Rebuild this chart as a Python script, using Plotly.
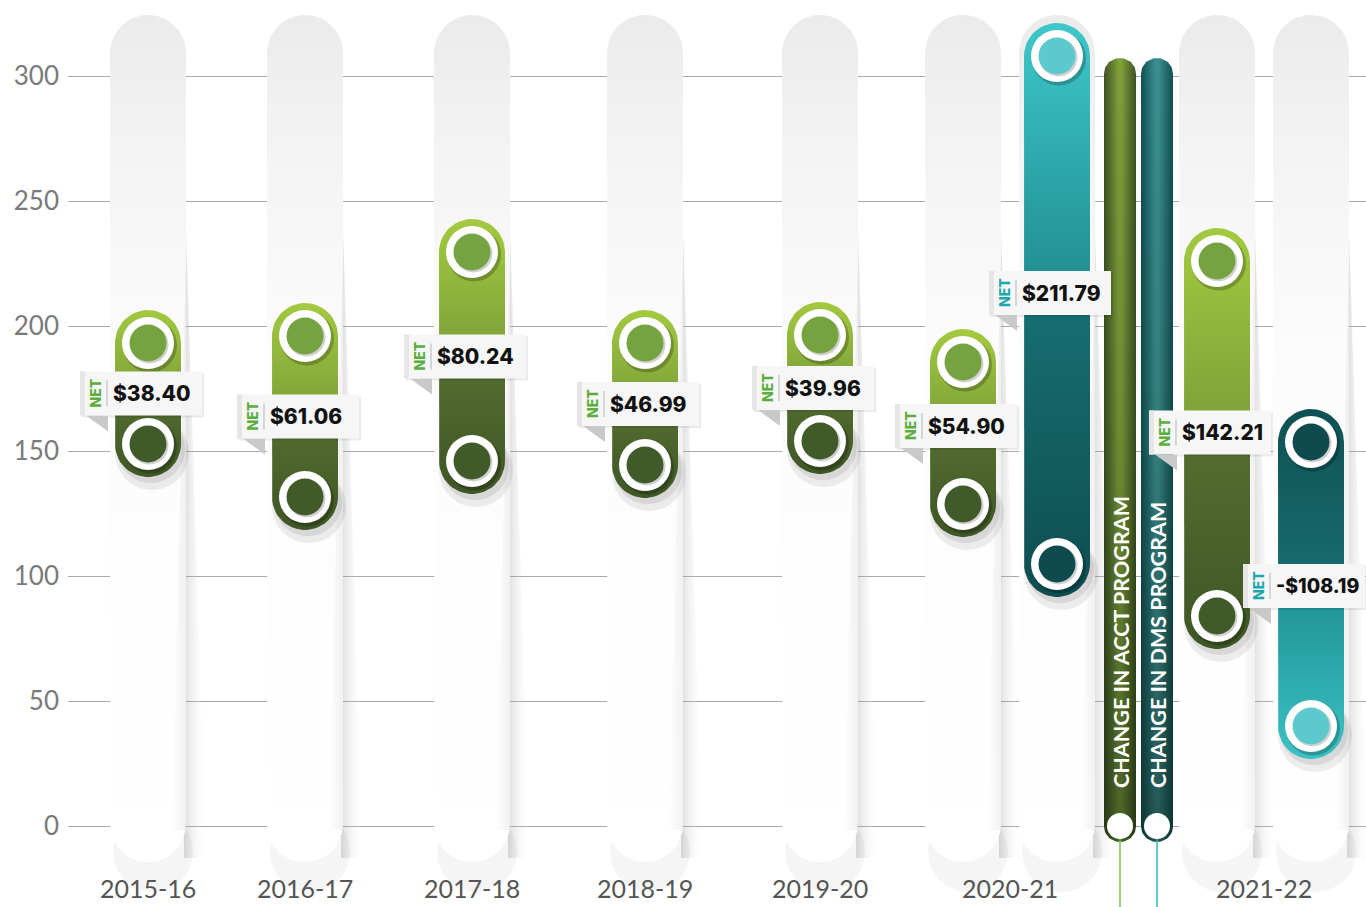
import plotly.graph_objects as go
import numpy as np

# ---------------- data ----------------
categories = ["2015-16", "2016-17", "2017-18", "2018-19", "2019-20", "2020-21", "2021-22"]
acct_start = [152.8, 131.6, 146.0, 144.4, 154.0, 128.8, 84.0]   # dark circle
acct_end = [193.2, 196.0, 229.6, 193.2, 196.4, 185.6, 226.0]     # light circle
acct_net = [38.40, 61.06, 80.24, 46.99, 39.96, 54.90, 142.21]
dms_categories = ["2020-21", "2021-22"]
dms_start = [104.8, 153.6]
dms_end = [308.0, 40.0]
dms_net = [211.79, -108.19]
y_ticks = [0, 50, 100, 150, 200, 250, 300]
legend_labels = ["CHANGE IN ACCT PROGRAM", "CHANGE IN DMS PROGRAM"]

# ---------------- layout / style ----------------
W, H = 1366, 907
ML = 68
PXU = 2.5                      # pixels per y unit
YMAX = 330.4
YMIN = YMAX - H / PXU

acct_x = [148, 305, 472, 645, 820, 963, 1217]
dms_x = [1057, 1311]
acct_label_dy = [0, 0, 0, 0, 0, -7, -6]      # pixel nudge of net labels
dms_label_dy = [-17, 2]
legend_x = [1120, 1157]
legend_cols = [("#3b5222", "#7e9f3a"), ("#0f4f52", "#3a8e8f")]
legend_line_cols = ["#7cc242", "#2fb8b8"]

FONT = "Lato"
HEAVY = "Inter, Lato"


def pv(px):            # page pixel -> y value
    return YMAX - px / PXU


def capsule(xc, y_top, y_bot, r, n=28):
    ry = r / PXU
    t1 = np.linspace(0, np.pi, n)
    t2 = np.linspace(np.pi, 2 * np.pi, n)
    xs = np.concatenate([xc + r * np.cos(t1), xc + r * np.cos(t2)])
    ys = np.concatenate([y_top + ry * np.sin(t1), y_bot + ry * np.sin(t2)])
    xs = np.append(xs, xs[0])
    ys = np.append(ys, ys[0])
    return xs, ys


fig = go.Figure()


def add_poly(xs, ys, grad=None, color=None):
    kw = dict(x=xs, y=ys, mode="lines", fill="toself", line=dict(width=0),
              hoverinfo="skip", showlegend=False)
    if grad is not None:
        kw["fillgradient"] = grad
        kw["fillcolor"] = "rgba(0,0,0,0)"
    else:
        kw["fillcolor"] = color
    fig.add_trace(go.Scatter(**kw))


def add_marker(x, y, size, color, line=None):
    fig.add_trace(go.Scatter(x=[x], y=[y], mode="markers",
                             marker=dict(size=size, color=color,
                                         line=line or dict(width=0)),
                             hoverinfo="skip", showlegend=False, cliponaxis=False))


# ---------------- background pills ----------------
all_cols = acct_x + dms_x
pill_top_c = pv(15 + 38)
pill_bot_c = pv(862 - 38)
for xc in all_cols:
    xr = xc + 36
    ys_sh = [pv(200), pv(200), pv(858), pv(858), pv(200)]
    xs_sh = [xr, xr + 1, xr + 22, xr, xr]
    add_poly(xs_sh, ys_sh, grad=dict(type="horizontal", start=xr, stop=xr + 22,
                                     colorscale=[[0, "rgba(150,140,145,0.32)"],
                                                 [1, "rgba(255,255,255,0)"]]))
    add_marker(xc + 5, pv(852), 80, "rgba(120,110,115,0.07)")
    xs, ys = capsule(xc, pill_top_c, pill_bot_c, 38)
    add_poly(xs, ys, grad=dict(type="vertical", start=pv(862), stop=pv(15),
                               colorscale=[[0, "#ffffff"], [0.6, "#fcfcfc"],
                                           [0.85, "#f3f3f3"], [1, "#ebebeb"]]))
    # soft inner shading at right edge (fades in downward)
    add_poly([xc + 38, xc + 38, xc + 24, xc + 38],
             [pv(250), pv(830), pv(830), pv(250)],
             grad=dict(type="horizontal", start=xc + 24, stop=xc + 38,
                       colorscale=[[0, "rgba(200,195,198,0)"], [1, "rgba(200,195,198,0.22)"]]))


# ---------------- value capsules ----------------
def draw_capsule(xc, start, end, label_px, kind):
    top, bot = max(start, end), min(start, end)
    r = 33
    ry = r / PXU
    s0, s1 = bot - ry, top + ry
    f = (pv(label_px) - s0) / (s1 - s0)
    f = min(max(f, 0.05), 0.95)
    if kind == "green":
        cs = [[0, "#3d5625"], [f - 0.001, "#566f30"], [f, "#7b9f39"], [1, "#a3ca3f"]]
        light_in, dark_in = "#74a340", "#415a29"
    elif kind == "teal_up":
        cs = [[0, "#0e4d50"], [f - 0.001, "#177073"], [f, "#1f8c8f"], [1, "#3fc7c9"]]
        light_in, dark_in = "#5ccacc", "#0f4b4e"
    else:  # teal_down
        cs = [[0, "#3bc2c4"], [f - 0.001, "#1f9092"], [f, "#176d70"], [1, "#0f5154"]]
        light_in, dark_in = "#5ccacc", "#0f4b4e"
    add_marker(xc + 4, bot - 9 / PXU, 74, "rgba(60,50,55,0.09)")
    add_marker(xc + 3, bot - 5 / PXU, 68, "rgba(60,50,55,0.11)")
    xs, ys = capsule(xc, top, bot, r)
    add_poly(xs, ys, grad=dict(type="vertical", start=s0, stop=s1, colorscale=cs))
    for val, inner in ((start, dark_in), (end, light_in)):
        add_marker(xc + 2, val - 2.5 / PXU, 54, "rgba(0,0,0,0.22)")
        add_marker(xc, val, 52, "#ffffff")
        add_marker(xc + 1.5, val - 1.5 / PXU, 38, "rgba(0,0,0,0.18)")
        add_marker(xc, val, 37, inner)


label_specs = []
for i, c in enumerate(categories):
    mid = (acct_start[i] + acct_end[i]) / 2
    lp = (YMAX - mid) * PXU + acct_label_dy[i]
    draw_capsule(acct_x[i], acct_start[i], acct_end[i], lp, "green")
    label_specs.append((acct_x[i], lp, acct_net[i], "#5aae3c"))
for j, c in enumerate(dms_categories):
    mid = (dms_start[j] + dms_end[j]) / 2
    lp = (YMAX - mid) * PXU + dms_label_dy[j]
    kind = "teal_up" if dms_end[j] > dms_start[j] else "teal_down"
    draw_capsule(dms_x[j], dms_start[j], dms_end[j], lp, kind)
    label_specs.append((dms_x[j], lp, dms_net[j], "#1ba7ac"))

# ---------------- legend pills ----------------
leg_top_c = pv(58 + 16)
for k, lx in enumerate(legend_x):
    dark, light = legend_cols[k]
    xs, ys = capsule(lx, leg_top_c, 0, 16)
    add_poly(xs, ys, grad=dict(type="horizontal", start=lx - 16, stop=lx + 16,
                               colorscale=[[0, dark], [0.45, light], [0.55, light], [1, dark]]))
    add_poly(xs, ys, grad=dict(type="vertical", start=-16 / PXU, stop=leg_top_c + 16 / PXU,
                               colorscale=[[0, "rgba(10,20,10,0.45)"], [0.5, "rgba(10,20,10,0.15)"],
                                           [1, "rgba(0,0,0,0)"]]))
    fig.add_trace(go.Scatter(x=[lx, lx], y=[-13 / PXU, YMIN], mode="lines",
                             line=dict(color=legend_line_cols[k], width=1.5),
                             hoverinfo="skip", showlegend=False))
    add_marker(lx, 0, 26, "#ffffff")

# ---------------- net labels ----------------
shapes = []
annotations = []
for (xc, lp, net, ncol) in label_specs:
    x0, x1 = xc - 68, min(xc + 54, W)
    y0, y1 = pv(lp + 22), pv(lp - 22)
    shapes.append(dict(type="rect", xref="x", yref="y", x0=x0 + 2, x1=x1 + 2,
                       y0=y0 - 2 / PXU, y1=y1 - 2 / PXU, fillcolor="rgba(0,0,0,0.08)",
                       line=dict(width=0), layer="above"))
    shapes.append(dict(type="path", xref="x", yref="y",
                       path=f"M {x0 + 6},{y0} L {x0 + 28},{y0} L {x0 + 28},{pv(lp + 38)} Z",
                       fillcolor="#c9c9c9", line=dict(width=0), layer="above"))
    shapes.append(dict(type="rect", xref="x", yref="y", x0=x0, x1=x1, y0=y0, y1=y1,
                       fillcolor="#f6f6f6", line=dict(width=0), layer="above"))
    shapes.append(dict(type="rect", xref="x", yref="y", x0=x0, x1=x0 + 5, y0=y0, y1=y1,
                       fillcolor="#e6e6e6", line=dict(width=0), layer="above"))
    shapes.append(dict(type="line", xref="x", yref="y", x0=x0 + 27, x1=x0 + 27,
                       y0=pv(lp + 13), y1=pv(lp - 13), line=dict(color="#b5b5b5", width=1),
                       layer="above"))
    annotations.append(dict(x=x0 + 15, y=pv(lp), xref="x", yref="y", text="NET",
                            textangle=-90, showarrow=False,
                            font=dict(family=HEAVY, size=14, color=ncol, weight=800)))
    txt = f"${net:,.2f}" if net >= 0 else f"-${abs(net):,.2f}"
    fsize = 21 if len(txt) <= 7 else 19.5
    annotations.append(dict(x=x0 + 31, y=pv(lp), xref="x", yref="y", text=txt,
                            xanchor="left", showarrow=False,
                            font=dict(family=HEAVY, size=fsize, color="#111111", weight=800)))

# legend texts
for k, lx in enumerate(legend_x):
    annotations.append(dict(x=lx + 1, y=pv(790), xref="x", yref="y", text=legend_labels[k],
                            textangle=-90, showarrow=False, yanchor="bottom",
                            font=dict(family=FONT, size=21.5, color="#ffffff", weight=700)))

# category labels
dms_map = dict(zip(dms_categories, dms_x))
for i, c in enumerate(categories):
    cx = (acct_x[i] + dms_map[c]) / 2 if c in dms_map else acct_x[i]
    annotations.append(dict(x=cx, y=0, xref="x", yref="paper", text=c, showarrow=False,
                            yanchor="bottom", yshift=2,
                            font=dict(family=FONT, size=25, color="#555555")))

fig.update_layout(
    width=W, height=H,
    margin=dict(l=ML, r=0, t=0, b=0),
    paper_bgcolor="#ffffff", plot_bgcolor="#ffffff",
    showlegend=False,
    shapes=shapes, annotations=annotations,
    xaxis=dict(range=[ML, W], showgrid=False, zeroline=False, showticklabels=False,
               fixedrange=True),
    yaxis=dict(range=[YMIN, YMAX], tickvals=y_ticks, showgrid=True, gridcolor="#a9a9a9",
               gridwidth=1, zeroline=False, ticks="", ticklabelstandoff=8,
               tickfont=dict(family=FONT, size=26, color="#7a7a7a"), fixedrange=True),
)

fig.write_html("out.html", config={"displayModeBar": False},
               post_script="document.body.style.margin='0px';document.body.style.overflow='hidden';")
